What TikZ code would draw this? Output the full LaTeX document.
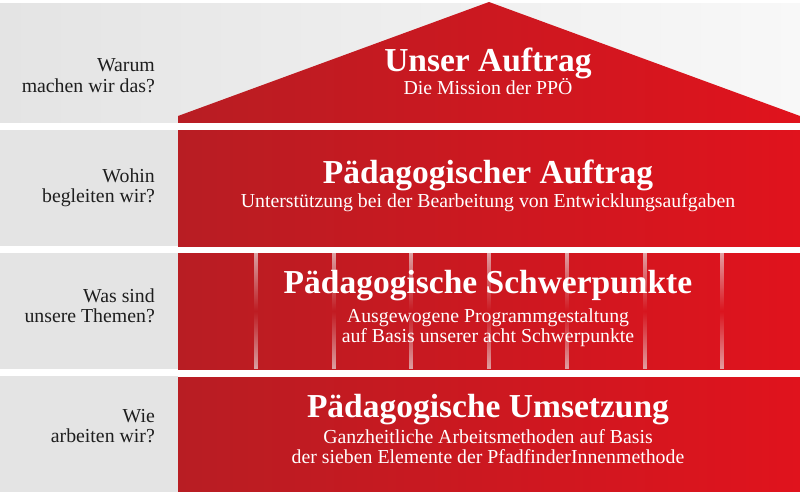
\documentclass[tikz,border=0pt]{standalone}
\usepackage{fontspec}
\setmainfont{Liberation Serif}
\usetikzlibrary{fadings}
\definecolor{redL}{HTML}{B81D23}
\definecolor{redR}{HTML}{E0131D}
\definecolor{grayL}{HTML}{E4E4E4}
\definecolor{grayR}{HTML}{F8F8F8}
\definecolor{labelc}{HTML}{1E1E1E}
\definecolor{stripec}{HTML}{E6DCDC}
\tikzfading[name=stripefade, top color=transparent!30, bottom color=transparent!30, middle color=transparent!100]
\begin{document}
\begin{tikzpicture}[x=1pt,y=-1pt,
  redfill/.style={left color=redL, right color=redR},
  title/.style={anchor=base, text=white, inner sep=0pt, font=\fontsize{33.5}{40}\selectfont\bfseries},
  sub/.style={anchor=base, text=white, inner sep=0pt, font=\fontsize{19.8}{24}\selectfont},
  lab/.style={anchor=base east, text=labelc, inner sep=0pt, font=\fontsize{19.8}{24}\selectfont}]
\useasboundingbox (0,0) rectangle (800,492);
\fill[white] (0,0) rectangle (800,492);
% gray bands
\shade[left color=grayL, right color=grayR] (0,4) rectangle (800,123);
\fill[grayL] (0,130) rectangle (178,246);
\fill[grayL] (0,253) rectangle (178,369);
\fill[grayL] (0,376) rectangle (178,492);
% roof
\shade[redfill] (178,123) -- (178,116) -- (489,2) -- (800,116) -- (800,123) -- cycle;
% boxes
\shade[redfill] (178,131) rectangle (800,246);
\shade[redfill] (178,253) rectangle (800,369);
\shade[redfill] (178,377) rectangle (800,492);
% stripes in third box
\foreach \k in {1,...,7}{
  \fill[stripec, path fading=stripefade] ({178+77.75*\k-2},253) rectangle ++(4,116);
}
% texts in red
\node[title] (t1) at (488,72) {Unser Auftrag};
\node[sub] (s1) at (488,95) {Die Mission der PPÖ};
\node[title] (t2) at (488,183) {Pädagogischer Auftrag};
\node[sub] (s2) at (488,207) {Unterstützung bei der Bearbeitung von Entwicklungsaufgaben};
\node[title] (t3) at (488,293) {Pädagogische Schwerpunkte};
\node[sub] (s3a) at (488,322) {Ausgewogene Programmgestaltung};
\node[sub] (s3b) at (488,342) {auf Basis unserer acht Schwerpunkte};
\node[title] (t4) at (488,417) {Pädagogische Umsetzung};
\node[sub] (s4a) at (488,443) {Ganzheitliche Arbeitsmethoden auf Basis};
\node[sub] (s4b) at (488,463) {der sieben Elemente der PfadfinderInnenmethode};
% left labels
\node[lab] (l1a) at (155,72) {Warum};
\node[lab] (l1b) at (155,93) {machen wir das?};
\node[lab] (l2a) at (155,182) {Wohin};
\node[lab] (l2b) at (155,202) {begleiten wir?};
\node[lab] (l3a) at (155,302) {Was sind};
\node[lab] (l3b) at (155,322) {unsere Themen?};
\node[lab] (l4a) at (155,422) {Wie};
\node[lab] (l4b) at (155,442) {arbeiten wir?};
\end{tikzpicture}
\end{document}
